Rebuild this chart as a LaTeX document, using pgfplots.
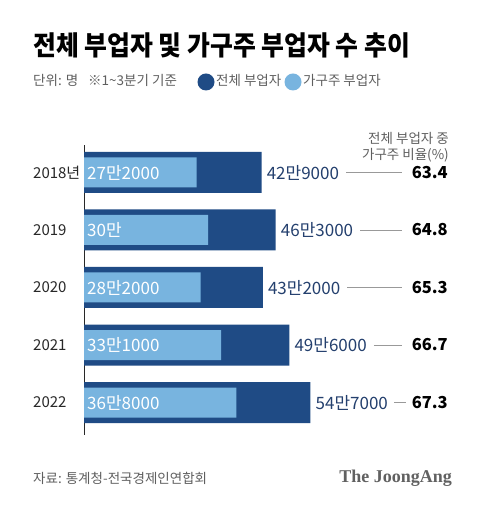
\documentclass[border=0pt]{standalone}
\usepackage{fontspec}
\setmainfont{Noto Sans CJK KR}
\newfontfamily\jaserif{Liberation Serif}
\usepackage{pgfplots}
\pgfplotsset{compat=1.18}
\usepackage{pgfplotstable}
\definecolor{navy}{RGB}{31,75,133}
\definecolor{lblue}{RGB}{120,180,223}
\definecolor{valblue}{RGB}{36,64,110}
\definecolor{gtxt}{RGB}{95,95,95}
\definecolor{ltxt}{RGB}{40,40,40}

% values in thousands of persons; pos 4 = 2018 (top)
\pgfplotstableread{
pos total head
4 429 272
3 463 300
2 432 282
1 496 331
0 547 368
}\data

\begin{document}
\begin{tikzpicture}
\useasboundingbox (0pt,0pt) rectangle (480pt,505pt);
\fill[white] (0pt,0pt) rectangle (480pt,505pt);
% title
\node[anchor=base west, inner sep=0] at (33pt,449pt)
  {\scalebox{0.92}[1]{\fontsize{27}{27}\selectfont\bfseries 전체 부업자 및 가구주 부업자 수 추이}};
% subtitle + legend
\node[anchor=base west, inner sep=0, text=gtxt, font=\fontsize{13.5}{13.5}\selectfont] at (33pt,419pt)
  {단위: 명\hspace{10pt}※1\textasciitilde 3분기 기준};
\fill[navy] (206pt,423pt) circle (8.5pt);
\node[anchor=base west, inner sep=0, text=gtxt, font=\fontsize{13.5}{13.5}\selectfont] at (216pt,419pt) {전체 부업자};
\fill[lblue] (293pt,423pt) circle (8.5pt);
\node[anchor=base west, inner sep=0, text=gtxt, font=\fontsize{13.5}{13.5}\selectfont] at (303pt,419pt) {가구주 부업자};
% header
\node[anchor=base east, inner sep=0, text=gtxt, font=\fontsize{13.5}{13.5}\selectfont] at (449pt,361pt) {전체 부업자 중};
\node[anchor=base east, inner sep=0, text=gtxt, font=\fontsize{13.5}{13.5}\selectfont] at (449pt,345pt) {가구주 비율(\%)};
% footer
\node[anchor=base west, inner sep=0, text=gtxt, font=\fontsize{13.5}{13.5}\selectfont] at (33pt,21pt) {자료: 통계청-전국경제인연합회};
\node[anchor=base east, inner sep=0, text=black!62, font=\jaserif\bfseries\fontsize{18}{18}\selectfont] at (452pt,22pt) {The JoongAng};

\begin{axis}[
  at={(84pt,70pt)}, anchor=south west, scale only axis,
  width=393.3pt, height=290pt,
  xmin=0, xmax=950, ymin=-0.565, ymax=4.478,
  xbar, hide x axis, axis y line*=left,
  y axis line style={-, line width=0.9pt, color=ltxt},
  ytick=\empty, xtick=\empty, clip=false,
]
\addplot[fill=navy, draw=none, bar width=41pt, bar shift=0pt] table[x=total, y=pos] {\data};
\addplot[fill=lblue, draw=none, bar width=30pt, bar shift=0pt] table[x=head, y=pos] {\data};

% year labels
\node[anchor=west, inner sep=0, text=ltxt, font=\fontsize{15}{15}\selectfont] at (axis cs:-123.2,4) {2018년};
\node[anchor=west, inner sep=0, text=ltxt, font=\fontsize{15}{15}\selectfont] at (axis cs:-123.2,3) {2019};
\node[anchor=west, inner sep=0, text=ltxt, font=\fontsize{15}{15}\selectfont] at (axis cs:-123.2,2) {2020};
\node[anchor=west, inner sep=0, text=ltxt, font=\fontsize{15}{15}\selectfont] at (axis cs:-123.2,1) {2021};
\node[anchor=west, inner sep=0, text=ltxt, font=\fontsize{15}{15}\selectfont] at (axis cs:-123.2,0) {2022};

% light bar labels
\node[anchor=west, inner sep=0, xshift=3pt, text=white, font=\fontsize{17}{17}\selectfont] at (axis cs:0,4) {27만2000};
\node[anchor=west, inner sep=0, xshift=3pt, text=white, font=\fontsize{17}{17}\selectfont] at (axis cs:0,3) {30만};
\node[anchor=west, inner sep=0, xshift=3pt, text=white, font=\fontsize{17}{17}\selectfont] at (axis cs:0,2) {28만2000};
\node[anchor=west, inner sep=0, xshift=3pt, text=white, font=\fontsize{17}{17}\selectfont] at (axis cs:0,1) {33만1000};
\node[anchor=west, inner sep=0, xshift=3pt, text=white, font=\fontsize{17}{17}\selectfont] at (axis cs:0,0) {36만8000};

% total labels, connectors, ratios
\node[anchor=west, inner sep=0, xshift=5pt, text=valblue, font=\fontsize{17}{17}\selectfont] (d0) at (axis cs:429,4) {42만9000};
\node[anchor=west, inner sep=0, xshift=5pt, text=valblue, font=\fontsize{17}{17}\selectfont] (d1) at (axis cs:463,3) {46만3000};
\node[anchor=west, inner sep=0, xshift=5pt, text=valblue, font=\fontsize{17}{17}\selectfont] (d2) at (axis cs:432,2) {43만2000};
\node[anchor=west, inner sep=0, xshift=5pt, text=valblue, font=\fontsize{17}{17}\selectfont] (d3) at (axis cs:496,1) {49만6000};
\node[anchor=west, inner sep=0, xshift=5pt, text=valblue, font=\fontsize{17}{17}\selectfont] (d4) at (axis cs:547,0) {54만7000};
\draw[black!40, line width=0.6pt] ([xshift=7pt]d0.east) -- (axis cs:768,4);
\draw[black!40, line width=0.6pt] ([xshift=7pt]d1.east) -- (axis cs:768,3);
\draw[black!40, line width=0.6pt] ([xshift=7pt]d2.east) -- (axis cs:768,2);
\draw[black!40, line width=0.6pt] ([xshift=7pt]d3.east) -- (axis cs:768,1);
\draw[black!40, line width=0.6pt] ([xshift=6pt]d4.east) -- (axis cs:778,0);
\node[anchor=east, inner sep=0, font=\fontsize{16.5}{16.5}\selectfont\bfseries] at (axis cs:879,4) {63.4};
\node[anchor=east, inner sep=0, font=\fontsize{16.5}{16.5}\selectfont\bfseries] at (axis cs:879,3) {64.8};
\node[anchor=east, inner sep=0, font=\fontsize{16.5}{16.5}\selectfont\bfseries] at (axis cs:879,2) {65.3};
\node[anchor=east, inner sep=0, font=\fontsize{16.5}{16.5}\selectfont\bfseries] at (axis cs:879,1) {66.7};
\node[anchor=east, inner sep=0, font=\fontsize{16.5}{16.5}\selectfont\bfseries] at (axis cs:879,0) {67.3};
\end{axis}
\end{tikzpicture}
\end{document}
